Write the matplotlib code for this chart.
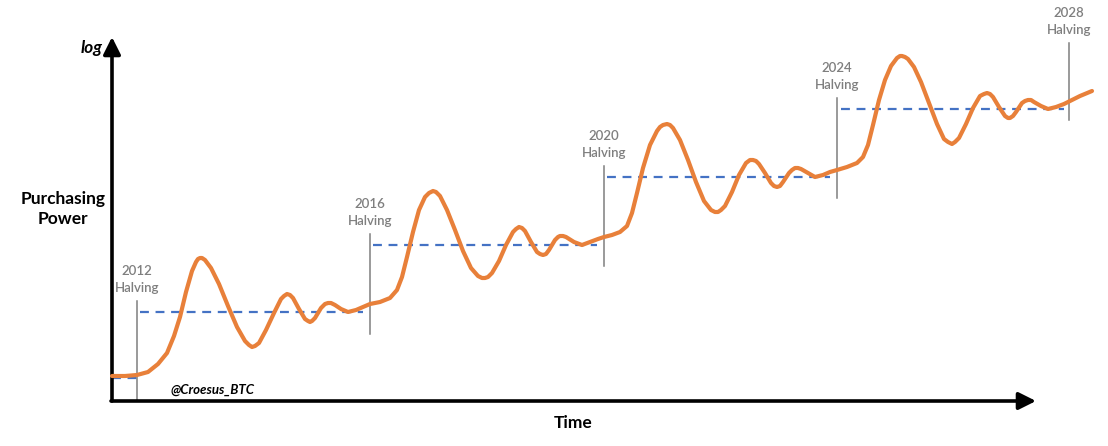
import matplotlib.pyplot as plt

# purchasing power curve (time, log value)
time = [0, 13, 25, 36, 46, 55, 62, 68, 74, 80, 84, 86, 88, 90, 93, 99, 107, 116, 125, 133,
        137, 140, 143, 147, 154, 162, 169, 172, 175, 178, 181, 187, 193, 196, 198, 200, 203,
        209, 213, 216, 219, 223, 229, 236, 244, 251, 258, 268, 278, 285, 290, 295, 301, 307,
        313, 317, 321, 324, 328, 335, 343, 351, 359, 366, 370, 373, 376, 380, 387, 394, 401,
        404, 407, 410, 413, 419, 425, 428, 431, 434, 437, 443, 446, 448, 451, 454, 462,
        470, 478, 486, 492, 500, 508, 515, 520, 525, 531, 538, 545, 548, 551, 555, 558, 561,
        568, 576, 584, 592, 599, 603, 606, 609, 613, 620, 627, 634, 638, 641, 644, 647, 653,
        659, 662, 665, 668, 671, 677, 680, 683, 686, 689, 696, 703, 711, 718, 725, 735, 745,
        751, 756, 761, 767, 773, 779, 785, 788, 790, 793, 796, 802, 809, 817, 825, 832, 836,
        840, 843, 847, 854, 861, 868, 872, 875, 878, 881, 887, 893, 896, 898, 901, 904, 910,
        913, 916, 919, 922, 929, 936, 944, 952, 958, 968, 980]
power = [24, 24, 25, 28, 36, 47, 64, 83, 108, 129, 138, 141, 142, 142, 140, 132, 116, 94, 73, 59,
         55, 53, 54, 57, 70, 87, 101, 104, 106, 105, 102, 91, 81, 79, 78, 79, 82,
         92, 96, 97, 97, 95, 91, 88, 90, 93, 96, 98, 102, 110, 123, 143, 168, 190,
         203, 207, 209, 208, 204, 190, 170, 149, 132, 124, 122, 122, 123, 127, 139, 155, 168,
         171, 173, 172, 169, 158, 148, 146, 145, 146, 150, 160, 163, 164, 164, 163, 158,
         155, 158, 161, 163, 165, 168, 174, 187, 207, 232, 255, 269, 273, 275, 276, 275, 272,
         260, 240, 218, 199, 190, 188, 188, 190, 194, 208, 225, 237, 240, 240, 239, 236, 227,
         217, 214, 213, 214, 218, 227, 230, 232, 232, 231, 227, 223, 225, 228, 230, 233, 237,
         243, 255, 275, 300, 320, 334, 342, 344, 344, 343, 341, 333, 318, 297, 276, 261, 258,
         256, 258, 262, 276, 292, 304, 306, 307, 306, 303, 293, 284, 282, 282, 284, 288, 297,
         299, 300, 300, 298, 294, 291, 293, 296, 299, 304, 309]

# halvings
years = ['2012', '2016', '2020', '2024', '2028']
halving_t = [25, 258, 492, 725, 957]
# average level of each cycle (start, end, level)
cycle_start = [0, 28, 261, 495, 729]
cycle_end = [25, 251, 485, 718, 952]
cycle_level = [22, 88, 155, 223, 291]

orange = '#E8803A'
blue = '#4472C4'
grey = '#7F7F7F'
plt.rcParams['font.family'] = ['Lato', 'DejaVu Sans']

fig = plt.figure(figsize=(11.08, 4.46), dpi=100)
ax = fig.add_axes([0, 0, 1, 1])
ax.set_xlim(-112, 996)
ax.set_ylim(-46, 400)
ax.axis('off')

# axes with arrows
ax.annotate('', xy=(0, 363), xytext=(0, -1),
            arrowprops=dict(arrowstyle='-|>', lw=2.6, color='black', mutation_scale=26,
                            shrinkA=0, shrinkB=0))
ax.annotate('', xy=(924, -1), xytext=(-1, -1),
            arrowprops=dict(arrowstyle='-|>', lw=2.6, color='black', mutation_scale=26,
                            shrinkA=0, shrinkB=0))

# dashed averages
for s, e, lv in zip(cycle_start, cycle_end, cycle_level):
    ax.plot([s, e], [lv, lv], ls=(0, (4, 3)), color=blue, lw=1.6)

# halving markers
for i, (yr, t) in enumerate(zip(years, halving_t)):
    if i < 4:
        top = cycle_level[i + 1] + 11
        bot = top - 100
    else:
        top = 357
        bot = 280
    ax.plot([t, t], [bot, top], color=grey, lw=1.1)
    ax.text(t, top + 30, yr, ha='center', va='center', fontsize=9.5, color=grey, fontweight='semibold')
    ax.text(t, top + 13, 'Halving', ha='center', va='center', fontsize=9.5, color=grey,
            fontweight='semibold')

ax.plot(time, power, color=orange, lw=3.0, solid_joinstyle='round', solid_capstyle='round', zorder=5)

ax.text(-20, 352, 'log', ha='center', va='center', fontsize=12.5, fontweight='bold', style='italic')
ax.text(-49, 191, 'Purchasing\nPower', ha='center', va='center', fontsize=12.5,
        fontweight='bold', linespacing=1.35)
ax.text(461, -23, 'Time', ha='center', va='center', fontsize=12.5, fontweight='bold')
ax.text(58, 10, '@Croesus_BTC', ha='left', va='center', fontsize=9.5, fontweight='bold', style='italic')

fig.savefig('out.png', dpi=100)
